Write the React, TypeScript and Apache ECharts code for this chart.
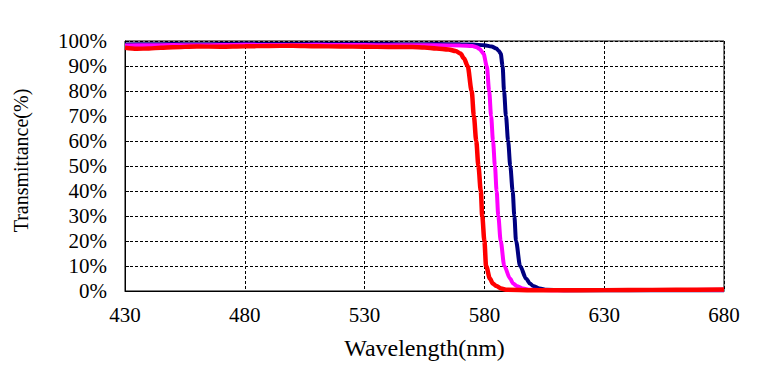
import React, { useEffect, useRef } from "react";
import * as echarts from "echarts";

const xTicks = { min: 430, max: 680, interval: 50 };
const yTicks = { min: 0, max: 100, interval: 10 };

const navyX = [430, 440, 450, 460, 470, 480, 490, 500, 510, 520, 530, 540, 550, 560, 570, 575, 580, 583, 585, 586, 586.8, 587.6, 588.2, 589, 589.9, 590.8, 591.8, 592.5, 593.2, 594.9, 597.4, 599, 600.4, 603, 606, 615, 630, 650, 680];
const navyY = [98.6, 98.7, 98.8, 98.7, 98.8, 98.9, 98.8, 98.8, 98.9, 98.8, 98.8, 98.8, 98.7, 98.8, 98.7, 98.6, 98.3, 97.8, 97.0, 96.0, 95, 90, 80, 70, 60, 50, 40, 30, 20, 10, 5, 3, 2, 1, 0.5, 0.3, 0.3, 0.3, 0.3];

const magentaX = [430, 440, 450, 460, 470, 480, 490, 500, 510, 520, 530, 540, 550, 560, 570, 575, 576.8, 578, 579.6, 581, 582, 582.8, 583.6, 584.4, 585.1, 585.8, 586.8, 588.3, 590.7, 592, 593.5, 596, 599, 610, 630, 650, 680];
const magentaY = [98.2, 98.3, 98.4, 98.3, 98.4, 98.5, 98.4, 98.4, 98.5, 98.4, 98.4, 98.3, 98.3, 98.3, 98.2, 98.0, 97.5, 96.8, 95, 90, 80, 70, 60, 50, 40, 30, 20, 10, 5, 3, 2, 1, 0.5, 0.3, 0.4, 0.4, 0.5];

const redX = [430, 435, 440, 445, 450, 460, 470, 480, 490, 500, 510, 520, 530, 540, 550, 555, 560, 565, 568, 570, 571.5, 573, 574.7, 575.6, 576.6, 577.5, 578.5, 579.1, 580, 580.7, 582.3, 583.5, 585, 587, 589, 600, 620, 640, 660, 680];
const redY = [97.3, 96.9, 97.0, 97.3, 97.5, 97.8, 97.7, 97.9, 98.0, 98.1, 97.9, 97.8, 97.7, 97.6, 97.6, 97.4, 97.0, 96.6, 96.0, 95.0, 93, 90, 80, 70, 60, 50, 40, 30, 20, 10, 5, 3, 2, 1, 0.5, 0.3, 0.3, 0.4, 0.5, 0.6];

const zip = (xs: number[], ys: number[]) => xs.map((x, i) => [x, ys[i]]);

const FONT = "'Liberation Serif', 'Times New Roman', serif";

export default function App() {
  const ref = useRef<HTMLDivElement>(null);
  useEffect(() => {
    if (!ref.current) return;
    const chart = echarts.init(ref.current, undefined, { renderer: "svg" });
    const gridLine = { show: true, lineStyle: { color: "#000", type: [3, 2] as any, width: 1 } };
    const mkSeries = (name: string, xs: number[], ys: number[], color: string, w: number) => ({
      name,
      type: "line",
      data: zip(xs, ys),
      showSymbol: false,
      smooth: 0.3,
      smoothMonotone: "x",
      lineStyle: { color, width: w },
      itemStyle: { color },
    });
    chart.setOption({
      animation: false,
      backgroundColor: "#fff",
      grid: { left: 125, right: 37, top: 41, bottom: 84, show: true, borderColor: "#000", borderWidth: 1, backgroundColor: "transparent" },
      xAxis: {
        type: "value",
        ...xTicks,
        name: "Wavelength(nm)",
        nameLocation: "middle",
        nameGap: 45,
        nameTextStyle: { fontFamily: FONT, fontSize: 24, color: "#000" },
        axisLine: { show: true, lineStyle: { color: "#000", width: 1 } },
        axisTick: { show: false },
        axisLabel: { fontFamily: FONT, fontSize: 21, color: "#000", margin: 13 },
        splitLine: gridLine,
      },
      yAxis: {
        type: "value",
        ...yTicks,
        name: "Transmittance(%)",
        nameLocation: "middle",
        nameGap: 94,
        nameTextStyle: { fontFamily: FONT, fontSize: 20, color: "#000", padding: [0, 0, 0, 11] },
        axisLine: { show: true, lineStyle: { color: "#000", width: 1 } },
        axisTick: { show: true, inside: true, length: 4, lineStyle: { color: "#000" } },
        axisLabel: { fontFamily: FONT, fontSize: 21, color: "#000", margin: 18, formatter: "{value}%" },
        splitLine: gridLine,
      },
      series: [
        mkSeries("navy", navyX, navyY, "#000080", 4),
        mkSeries("magenta", magentaX, magentaY, "#FF00FF", 4),
        mkSeries("red", redX, redY, "#FF0000", 4.5),
      ],
    });
    return () => chart.dispose();
  }, []);
  return <div ref={ref} style={{ position: "fixed", left: 0, top: 0, width: 761, height: 375 }} />;
}
